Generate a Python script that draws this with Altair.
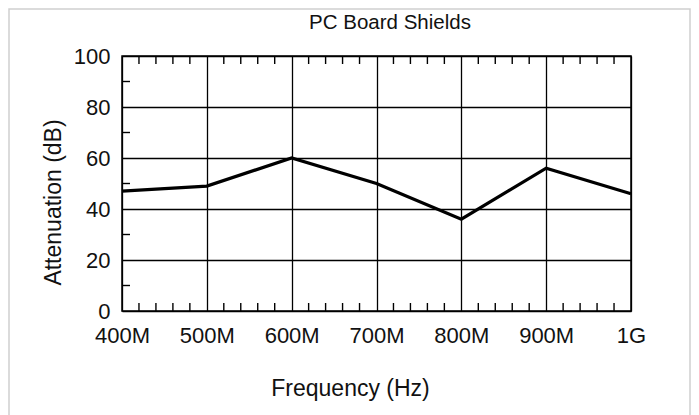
import altair as alt
import pandas as pd

# Data
chart_title = ["PC Board Shields"]
freq_mhz = [400, 500, 600, 700, 800, 900, 1000]
attenuation_db = [47, 49, 60, 50, 36, 56, 46]

x_major = [400, 500, 600, 700, 800, 900, 1000]
y_major = [0, 20, 40, 60, 80, 100]
x_minor = [v for v in range(420, 1000, 20) if v % 100 != 0]
y_minor = [10, 30, 50, 70, 90]

FONT = "Liberation Sans"
W, H = 509, 255

line_df = pd.DataFrame({"freq": freq_mhz, "att": attenuation_db})
xminor_df = pd.DataFrame({"freq": x_minor})
yminor_df = pd.DataFrame({"att": y_minor})
frame_df = pd.DataFrame({"k": [0]})
title_df = pd.DataFrame({"t": chart_title})

xscale = alt.Scale(domain=[400, 1000], nice=False, zero=False)
yscale = alt.Scale(domain=[0, 100], nice=False)

x_axis = alt.Axis(
    values=x_major,
    labelExpr="datum.value >= 1000 ? '1G' : datum.value + 'M'",
    title="Frequency (Hz)",
    grid=True,
    ticks=False,
    tickSize=0,
    domain=False,
    labelPadding=14,
    titlePadding=31,
    titleX=228,
    labelFlush=False,
)
y_axis = alt.Axis(
    values=y_major,
    title="Attenuation (dB)",
    grid=True,
    ticks=False,
    tickSize=0,
    domain=False,
    labelPadding=12,
    titlePadding=8,
    titleY=146,
)

line = alt.Chart(line_df).mark_line(color="black", strokeWidth=3.2).encode(
    x=alt.X("freq:Q", scale=xscale, axis=x_axis),
    y=alt.Y("att:Q", scale=yscale, axis=y_axis),
)

top_ticks = alt.Chart(xminor_df).mark_rule(color="black", strokeWidth=1.4).encode(
    x=alt.X("freq:Q", scale=xscale, axis=x_axis),
    y=alt.value(0), y2=alt.value(8),
)
bottom_ticks = alt.Chart(xminor_df).mark_rule(color="black", strokeWidth=1.4).encode(
    x=alt.X("freq:Q", scale=xscale, axis=x_axis),
    y=alt.value(H - 8), y2=alt.value(H),
)
left_ticks = alt.Chart(yminor_df).mark_rule(color="black", strokeWidth=1.4).encode(
    y=alt.Y("att:Q", scale=yscale, axis=y_axis),
    x=alt.value(0), x2=alt.value(8),
)

frame = alt.Chart(frame_df).mark_rect(
    fill=None, stroke="#cfcfcf", strokeWidth=1.5
).encode(
    x=alt.value(-113), x2=alt.value(568), y=alt.value(-47), y2=alt.value(H + 120)
)

title_text = alt.Chart(title_df).mark_text(
    font=FONT, fontSize=20.5, color="#111111", align="center", baseline="alphabetic"
).encode(
    text="t:N", x=alt.value(268), y=alt.value(-27)
)

chart = alt.layer(line, top_ticks, bottom_ticks, left_ticks, frame, title_text).properties(
    width=W,
    height=H,
    background="white",
    padding={"left": 114, "top": 48, "right": 60, "bottom": 104},
    autosize=alt.AutoSizeParams(type="none"),
).configure_view(
    stroke="black", strokeWidth=1.5
).configure_axis(
    labelFont=FONT,
    labelFontSize=22,
    labelColor="#111111",
    titleFont=FONT,
    titleFontSize=23,
    titleFontWeight="normal",
    titleColor="#111111",
    gridColor="black",
    gridWidth=1.3,
    gridOpacity=1,
)

chart.save("out.html", embed_options={"renderer": "svg", "actions": False})
